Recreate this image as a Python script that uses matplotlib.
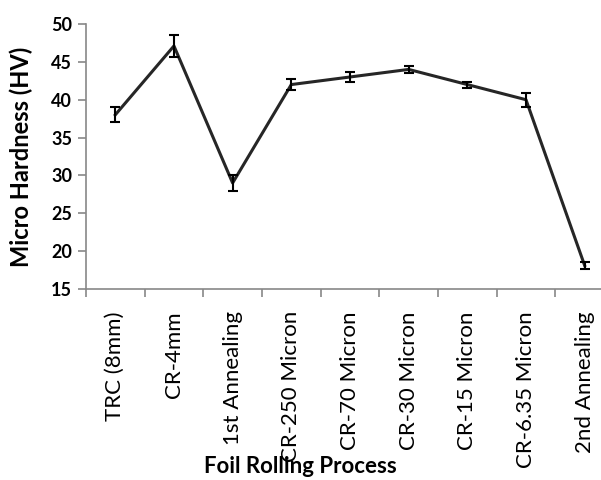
import matplotlib.pyplot as plt
import numpy as np

# hardness along the foil rolling route
stages = ['TRC (8mm)', 'CR-4mm', '1st Annealing', 'CR-250 Micron', 'CR-70 Micron',
          'CR-30 Micron', 'CR-15 Micron', 'CR-6.35 Micron', '2nd Annealing']
hardness = [38.0, 47.1, 29.0, 42.0, 43.0, 44.0, 42.0, 40.0, 18.1]
hardness_err = [1.0, 1.4, 1.0, 0.7, 0.6, 0.5, 0.4, 0.9, 0.5]

plt.rcParams['font.family'] = ['Lato', 'DejaVu Sans']

fig = plt.figure(figsize=(6.01, 4.8), dpi=100)
ax = fig.add_axes([0.143, 0.398, 0.8786, 0.552])

xpos = np.arange(len(stages)) + 0.5
ax.plot(xpos, hardness, color='#262626', lw=2.2, zorder=2)
ax.errorbar(xpos, hardness, yerr=hardness_err, fmt='none', ecolor='black',
            elinewidth=1.5, capsize=3.5, capthick=1.5, zorder=3)

ax.set_xlim(0, len(stages))
ax.set_ylim(15, 50)
ax.set_yticks(np.arange(15, 51, 5))
ax.set_yticklabels([str(v) for v in range(15, 51, 5)], fontweight='bold', fontsize=13)

# boundaries carry the tick marks, centres carry the labels
ax.set_xticks(np.arange(0, len(stages) + 1))
ax.set_xticklabels([])
ax.set_xticks(xpos, minor=True)
ax.set_xticklabels(stages, minor=True, rotation=90, fontsize=16)
ax.tick_params(axis='x', which='minor', length=0, pad=16)
ax.tick_params(axis='x', which='major', length=6, color='#888888', width=1.2)
ax.tick_params(axis='y', length=6, color='#888888', width=1.2, pad=4)

for s in ['top', 'right']:
    ax.spines[s].set_visible(False)
for s in ['left', 'bottom']:
    ax.spines[s].set_color('#888888')
    ax.spines[s].set_linewidth(1.2)

ax.set_ylabel('Micro Hardness (HV)', fontweight='bold', fontsize=17, labelpad=13)
fig.text(0.5, 1 - 456 / 480, 'Foil Rolling Process', fontweight='bold', fontsize=16,
         ha='center', va='top')

fig.savefig('out.png', dpi=100)
